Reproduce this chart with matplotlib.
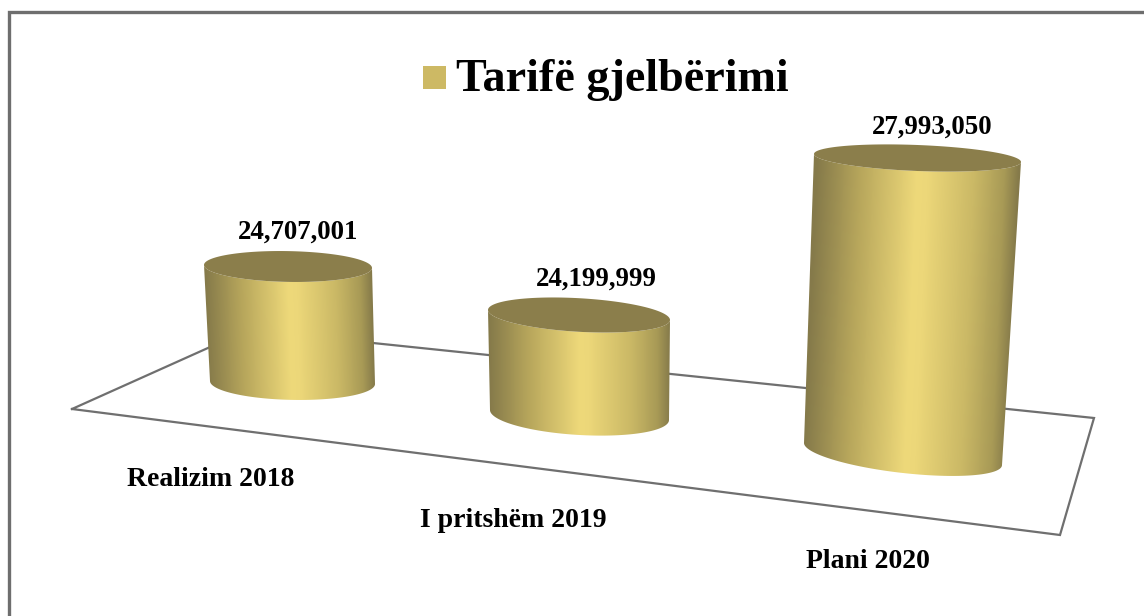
import matplotlib
matplotlib.use('Agg')
import matplotlib.pyplot as plt
import numpy as np
from matplotlib.colors import LinearSegmentedColormap
from matplotlib.patches import Polygon, Rectangle
from matplotlib.transforms import Affine2D

# data
categories = ['Realizim 2018', 'I pritshëm 2019', 'Plani 2020']
values = [24707001, 24199999, 27993050]
axis_min = 22000000
title = 'Tarifë gjelbërimi'

# px per value unit, the front bars are nearer to the viewer so they scale up
px_per_unit = [116 / 2707001, 100 / 2199999, 296 / 5993050]

# cylinder layout in image pixels: base centre, half axes, tilt of the ellipses
base_x = [292.5, 579.5, 903]
base_y = [382.5, 415, 454]
base_a = [82.5, 89.5, 99]
base_b = [17.4, 20, 19]
base_tilt = [1.5, 5, 11]
top_x = [288, 579, 917.5]
top_a = [84, 91, 103.5]
top_b = [15.4, 16.8, 13]
top_tilt = [1.5, 5, 4]

label_dx = [10, 17, 15]
label_dy = [-34, -36, -31]
cat_x = [211, 513, 868]
cat_y = [479.5, 520.5, 561.5]

floor_x = [72, 248, 1094, 1060, 72]
floor_y = [409, 330, 418, 535, 409]

body_cmap = LinearSegmentedColormap.from_list('gold', [
    (0.0, '#857a4a'), (0.22, '#b8a75c'), (0.5, '#eed97a'),
    (0.55, '#ecd779'), (0.78, '#cbb966'), (0.93, '#a89a56'), (1.0, '#857a4a')])
# runs a bit past both edges, the colours clamp there, the clip path trims it
pad = 0.1
gradient = np.clip(np.linspace(-pad, 1 + pad, 300), 0, 1)[None, :]

fig = plt.figure(figsize=(11.44, 6.16), dpi=100)
ax = fig.add_axes([0, 0, 1, 1])
plt.rcParams['font.family'] = ['Liberation Serif', 'DejaVu Serif']

# chart frame, only left and top edges show in the crop
ax.plot([9, 9, 1144], [616, 12, 12], color='#6e6e6e', lw=2.4, solid_joinstyle='miter')
# floor
ax.plot(floor_x, floor_y, color='#6f6f6f', lw=1.6, solid_joinstyle='miter')

for i in range(len(values)):
    top_y = base_y[i] - (values[i] - axis_min) * px_per_unit[i]
    t = np.linspace(0, np.pi, 121)
    # outline of the side: front of top ellipse, then front of base ellipse back again
    xt = top_x[i] + top_a[i] * np.cos(t)
    yt = top_y + top_b[i] * np.sin(t) + top_tilt[i] * np.cos(t)
    xb = base_x[i] + base_a[i] * np.cos(t)
    yb = base_y[i] + base_b[i] * np.sin(t) + base_tilt[i] * np.cos(t)
    outline = np.column_stack([np.r_[xt, xb[::-1]], np.r_[yt, yb[::-1]]])

    # gradient image sheared along the lean of the cylinder, clipped to the outline
    width = top_a[i] + base_a[i]
    left = top_x[i] - width / 2
    lean = base_x[i] - top_x[i]
    shear = Affine2D.from_values(width, 0, lean, base_y[i] + 40 - top_y, left, top_y)
    im = ax.imshow(gradient, extent=[-pad, 1 + pad, 1.2, -0.2], aspect='auto', cmap=body_cmap,
                   vmin=0, vmax=1, interpolation='bilinear', zorder=3,
                   transform=shear + ax.transData)
    im.set_clip_path(Polygon(outline, closed=True, transform=ax.transData))

    t2 = np.linspace(0, 2 * np.pi, 200)
    ax.fill(top_x[i] + top_a[i] * np.cos(t2),
            top_y + top_b[i] * np.sin(t2) + top_tilt[i] * np.cos(t2),
            color='#8b7e4b', lw=0, zorder=4)
    ax.text(top_x[i] + label_dx[i], top_y + label_dy[i], format(values[i], ','),
            fontsize=19.4, fontweight='bold', ha='center', va='center', color='black', zorder=5)
    ax.text(cat_x[i], cat_y[i], categories[i], fontsize=20, fontweight='bold',
            ha='center', va='center', color='black', zorder=5)

# legend
ax.add_patch(Rectangle((423, 66), 23, 23, facecolor='#cdb964', edgecolor='none'))
ax.text(456, 91, title, fontsize=33.2, fontweight='bold', ha='left', va='baseline', color='black')

ax.set_xlim(0, 1144)
ax.set_ylim(616, 0)
ax.axis('off')

plt.savefig('out.png', dpi=100)
